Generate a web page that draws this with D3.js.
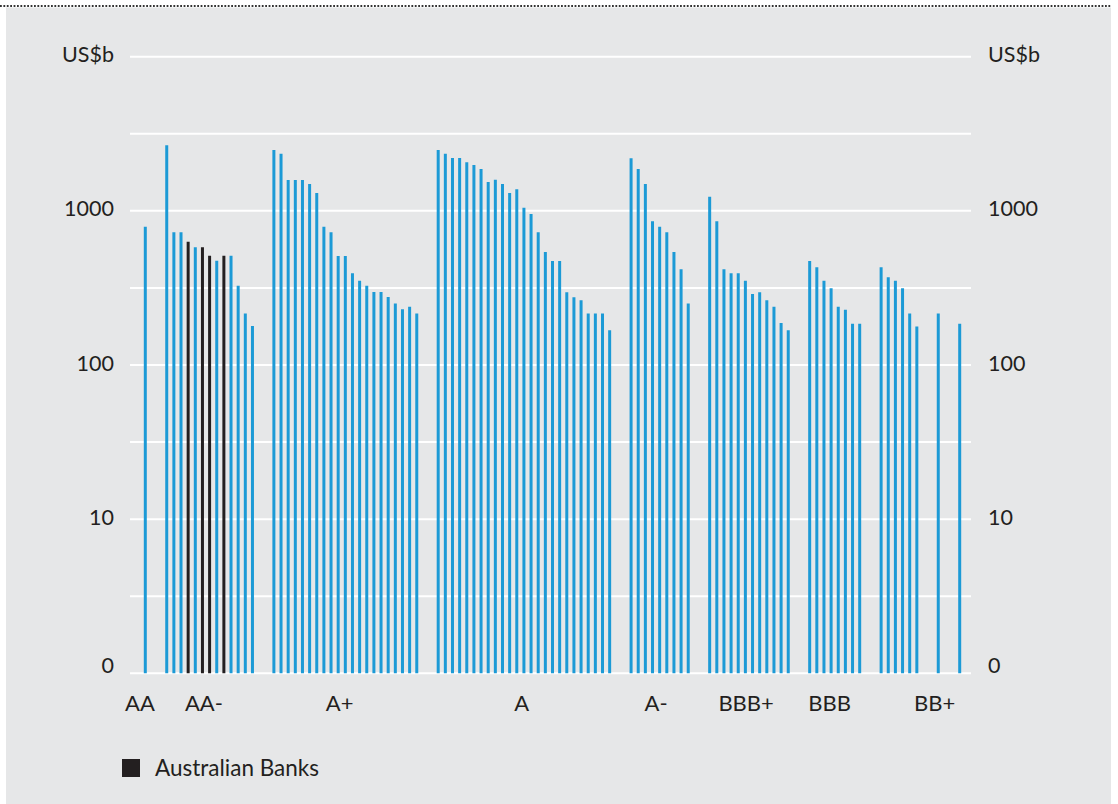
<!DOCTYPE html>
<html>
<head>
<meta charset="utf-8">
<script src="https://cdn.jsdelivr.net/npm/d3@7/dist/d3.min.js"></script>
<style>
  html, body { margin: 0; padding: 0; background: #ffffff; }
  svg { display: block; }
  text { font-family: Lato, "Open Sans", sans-serif; fill: #231f20; }
</style>
</head>
<body>
<svg id="chart" width="1118" height="804"></svg>
<script>
// Rating groups, in the order they sit along the axis
const ratingGroups = ["AA", "AA-", "A+", "A", "A-", "BBB+", "BBB", "BBB-", "BB+", "BB"];

// Total assets of each bank in a rating group (US$b), largest first
const valuesAA   = [790];
const valuesAAm  = [2660, 726, 726, 631, 580, 580, 512, 475, 512, 512, 327, 216, 179];
const valuesAp   = [2483, 2349, 1585, 1585, 1585, 1494, 1306, 789, 726, 510, 510, 393, 352, 327, 298, 298, 276, 251, 230, 239, 216];
const valuesA    = [2483, 2349, 2203, 2203, 2065, 1983, 1869, 1539, 1593, 1494, 1306, 1380, 1048, 954, 726, 541, 473, 473, 296, 275, 263, 216, 216, 216, 168];
const valuesAm   = [2193, 1869, 1494, 855, 789, 726, 541, 418, 251];
const valuesBBBp = [1236, 855, 418, 393, 393, 352, 289, 296, 263, 239, 187, 168];
const valuesBBB  = [473, 430, 352, 315, 239, 228, 185, 185];
const valuesBBBm = [430, 371, 352, 315, 216, 178];
const valuesBBp  = [216];
const valuesBB   = [185];
const groupValues = [valuesAA, valuesAAm, valuesAp, valuesA, valuesAm, valuesBBBp, valuesBBB, valuesBBBm, valuesBBp, valuesBB];

// Australian banks within the AA- group (index within that group)
const australianBanks = [3, 5, 6, 8];

// Axis labels under the bars and the slot they are centred on
const axisLabels = ["AA", "AA-", "A+", "A", "A-", "BBB+", "BBB", "BB+"];
const axisLabelSlots = [-0.74, 8.2, 27.2, 52.7, 71.5, 84.1, 95.8, 110.5];

// Value axis ticks (log scale); the bottom line carries the label "0"
const tickValues = [1, 10, 100, 1000];
const tickLabels = ["0", "10", "100", "1000"];
const unitLabel = "US$b";

const GAP_SLOTS = 2;
const BLUE = "#1c9ad6";
const DARK = "#231f20";

// Flatten groups into a single run of slots with empty slots between groups
const bars = [];
let slot = 0;
groupValues.forEach((vals, gi) => {
  if (gi > 0) slot += GAP_SLOTS;
  vals.forEach((v, i) => {
    bars.push({
      group: ratingGroups[gi],
      value: v,
      slot: slot,
      aus: ratingGroups[gi] === "AA-" && australianBanks.includes(i)
    });
    slot += 1;
  });
});
const lastSlot = slot - 1;

const svg = d3.select("#chart");

// Panel background and dotted rule across the top
svg.append("rect")
  .attr("x", 6).attr("y", 7.5)
  .attr("width", 1105).attr("height", 797)
  .attr("fill", "#e6e7e8");
svg.append("line")
  .attr("x1", 0).attr("x2", 1111)
  .attr("y1", 6).attr("y2", 6)
  .attr("stroke", "#333")
  .attr("stroke-width", 1.8)
  .attr("stroke-dasharray", "1.8,1.6");

const gridLeft = 130, gridRight = 971;
const y = d3.scaleLog().domain([1, 10000]).range([673.3, 56.7]);
const x = d3.scaleLinear().domain([0, lastSlot]).range([145.3, 959.7]);

// Horizontal grid at every half decade
const gridValues = d3.range(0, 9).map(k => Math.pow(10, k / 2));
svg.append("g").selectAll("line")
  .data(gridValues)
  .join("line")
  .attr("x1", gridLeft).attr("x2", gridRight)
  .attr("y1", d => y(d)).attr("y2", d => y(d))
  .attr("stroke", "#ffffff")
  .attr("stroke-width", 2);

// Bars drawn as thin vertical strokes from the baseline
svg.append("g").selectAll("line")
  .data(bars)
  .join("line")
  .attr("x1", d => x(d.slot)).attr("x2", d => x(d.slot))
  .attr("y1", y(1)).attr("y2", d => y(d.value))
  .attr("stroke", d => d.aus ? DARK : BLUE)
  .attr("stroke-width", 3);

// Value labels on both sides
const labelOffset = v => (v === 1 ? 0 : 5.5);
const tickData = tickValues.map((v, i) => ({ v, t: tickLabels[i] }))
  .concat([{ v: 10000, t: unitLabel }]);

svg.append("g").selectAll("text")
  .data(tickData)
  .join("text")
  .attr("x", 114)
  .attr("y", d => y(d.v) + labelOffset(d.v))
  .attr("text-anchor", "end")
  .attr("font-size", 21.5)
  .text(d => d.t);

svg.append("g").selectAll("text")
  .data(tickData)
  .join("text")
  .attr("x", 988)
  .attr("y", d => y(d.v) + labelOffset(d.v))
  .attr("text-anchor", "start")
  .attr("font-size", 21.5)
  .text(d => d.t);

// Rating labels under the bars
svg.append("g").selectAll("text")
  .data(axisLabels)
  .join("text")
  .attr("x", (d, i) => x(axisLabelSlots[i]))
  .attr("y", 711)
  .attr("text-anchor", "middle")
  .attr("font-size", 22)
  .text(d => d);

// Legend
const legend = svg.append("g").attr("transform", "translate(122,759)");
legend.append("rect")
  .attr("width", 18).attr("height", 18)
  .attr("fill", DARK);
legend.append("text")
  .attr("x", 33).attr("y", 16.5)
  .attr("font-size", 22.5)
  .text("Australian Banks");
</script>
</body>
</html>
